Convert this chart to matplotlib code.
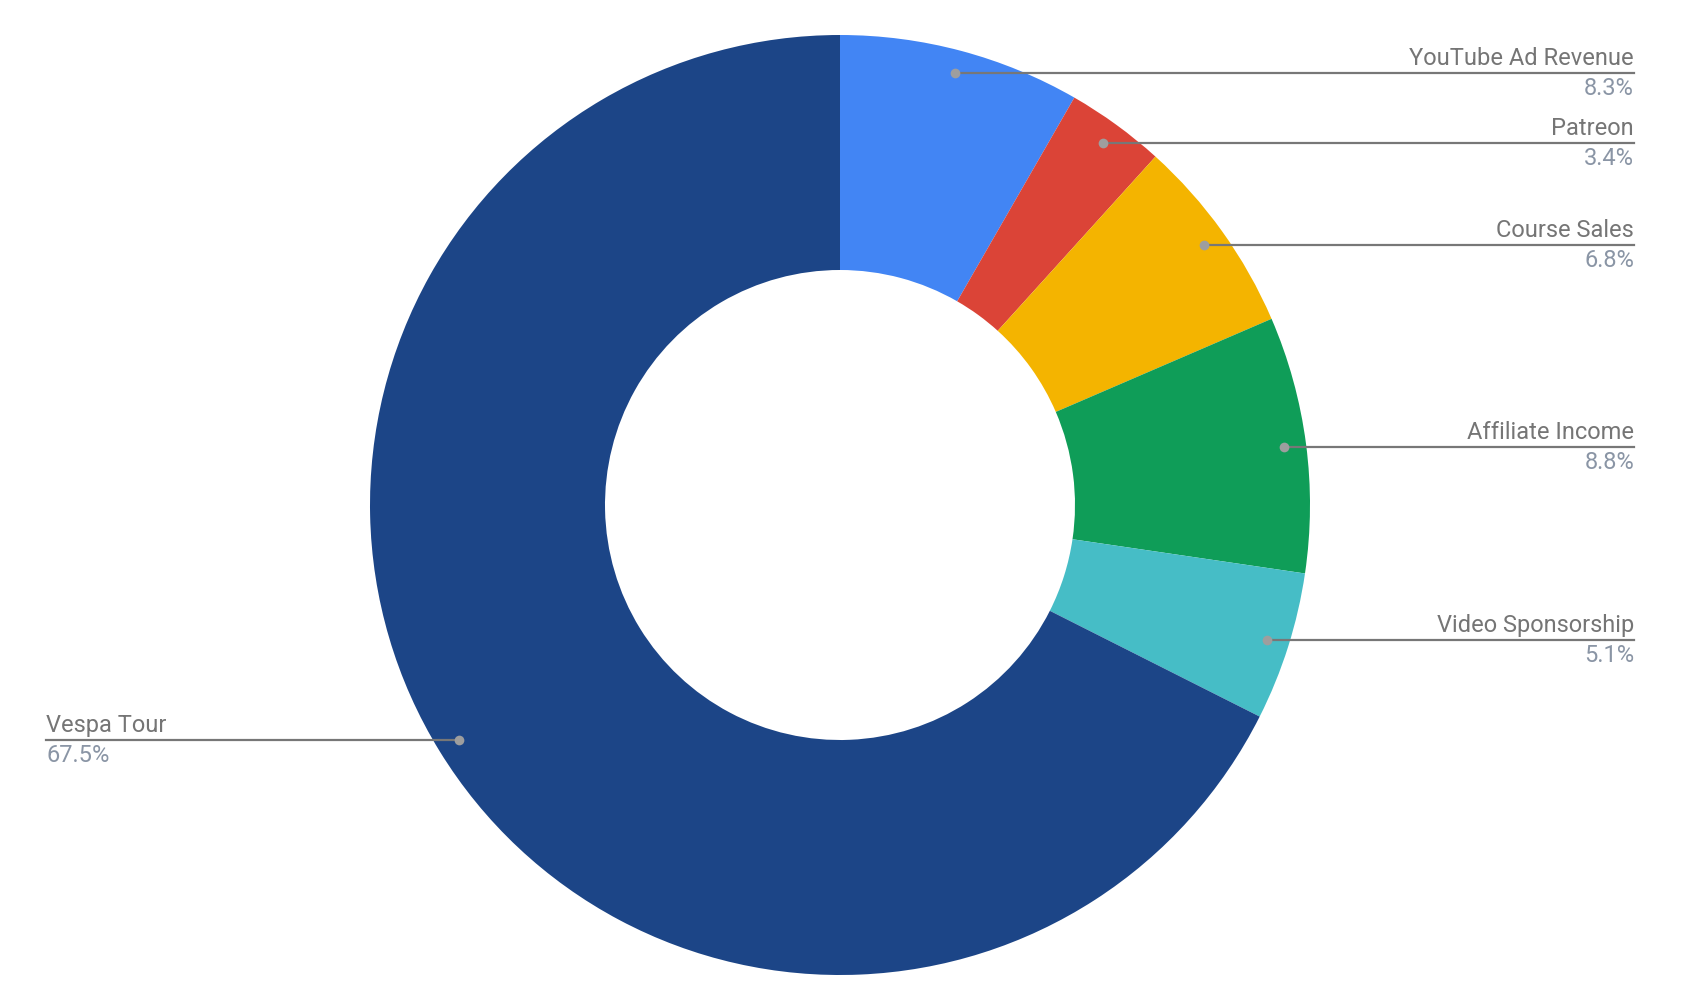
import numpy as np
import matplotlib
matplotlib.use('Agg')
import matplotlib.pyplot as plt

plt.rcParams['font.family'] = ['Roboto', 'DejaVu Sans']

labels = ['YouTube Ad Revenue', 'Patreon', 'Course Sales', 'Affiliate Income',
          'Video Sponsorship', 'Vespa Tour']
values = [8.3, 3.4, 6.8, 8.8, 5.1, 67.5]
colors = ['#4285f4', '#db4437', '#f4b400', '#0f9d58', '#46bdc6', '#1c4587']

W, H = 1684, 1002
cx, cy, R = 840, H - 505, 470

fig = plt.figure(figsize=(W / 100, H / 100), dpi=100)
ax = fig.add_axes([0, 0, 1, 1])
ax.pie(values, colors=colors, startangle=90, counterclock=False,
       center=(cx, cy), radius=R, wedgeprops=dict(width=R * 0.5, linewidth=0))
ax.set_xlim(0, W)
ax.set_ylim(0, H)
ax.set_aspect('equal')
ax.axis('off')

# label leaders: dot inside each slice, line out to the label column
frac = np.array(values) / sum(values)
mid = 90 - 360 * (np.cumsum(frac) - frac / 2)
for name, v, a in zip(labels, values, mid):
    dx = cx + 0.952 * R * np.cos(np.radians(a))
    dy = cy + 0.952 * R * np.sin(np.radians(a))
    if dx > cx:
        x_end, ha = 1634, 'right'
    else:
        x_end, ha = 46, 'left'
    ax.plot([dx, x_end], [dy, dy], color='#777777', lw=1.6, zorder=3)
    ax.plot(dx, dy, 'o', color='#9e9e9e', ms=7, mew=0, zorder=4)
    ax.text(x_end, dy + 8, name, ha=ha, va='baseline', fontsize=17, color='#757575')
    ax.text(x_end, dy - 22, f'{v}%', ha=ha, va='baseline', fontsize=17, color='#8a95a5')

fig.savefig('out.png', dpi=100)
